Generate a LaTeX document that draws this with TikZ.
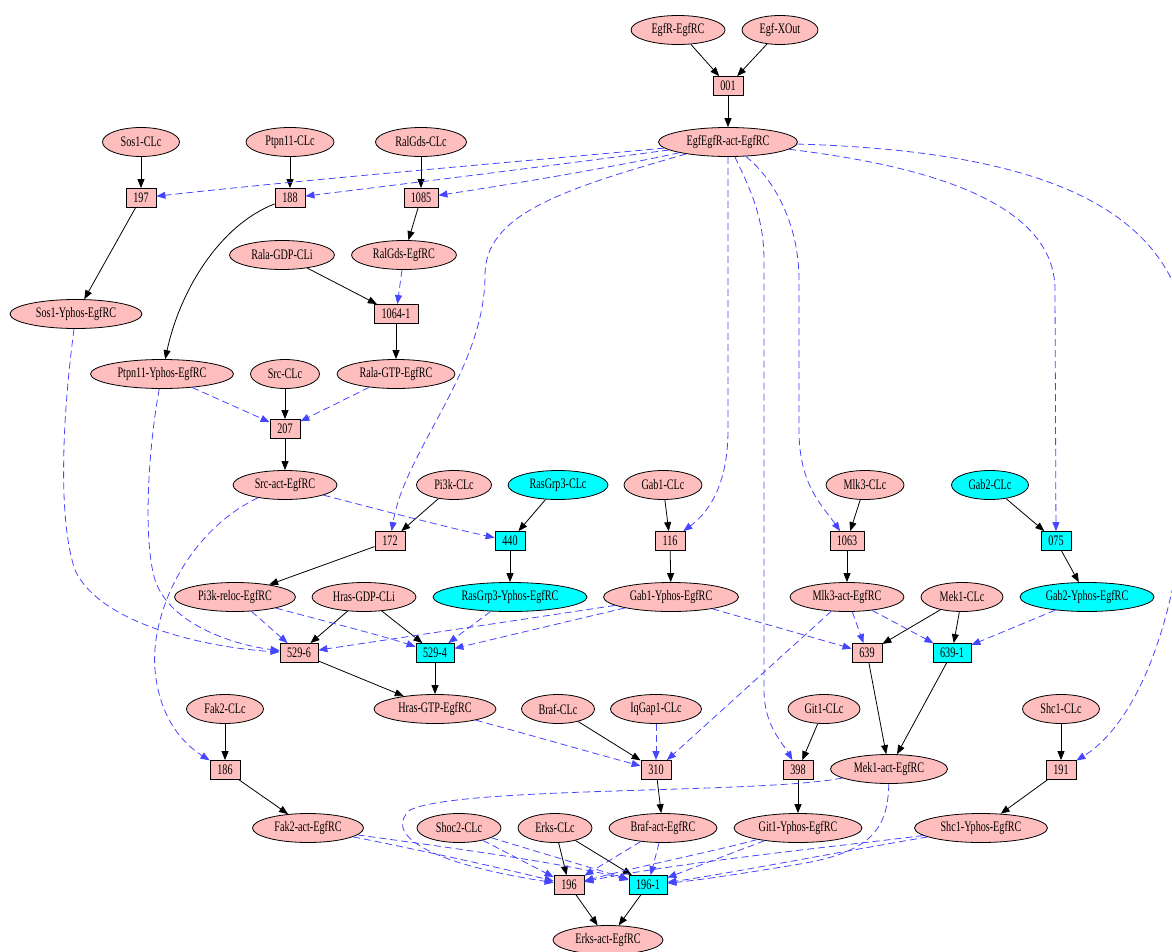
\documentclass[tikz,border=0pt]{standalone}
\usepackage{fontspec}
\setmainfont{Liberation Serif}[FakeStretch=0.70]
\usetikzlibrary{shapes.geometric,arrows.meta}
\definecolor{pinkf}{RGB}{255,190,190}
\definecolor{cyanf}{RGB}{0,255,255}
\definecolor{eblue}{RGB}{70,70,255}
\begin{document}
\begin{tikzpicture}[x=1pt,y=-1pt,
  every node/.style={font=\fontsize{14.5}{15}\selectfont, text=black},
  ell/.style={ellipse, draw=black, line width=0.8pt, fill=pinkf, minimum height=29pt, inner sep=0pt},
  ellc/.style={ell, fill=cyanf},
  bx/.style={rectangle, draw=black, line width=0.8pt, fill=pinkf, minimum height=19pt, inner sep=0pt},
  bxc/.style={bx, fill=cyanf},
  sedge/.style={draw=black, line width=0.8pt, -{Triangle[length=9pt,width=7pt]}},
  dedge/.style={draw=eblue, line width=0.8pt, dash pattern=on 7pt off 4pt, -{Triangle[length=9pt,width=7pt]}}
]
\useasboundingbox (0,0) rectangle (1172,952);
% nodes
\node[ell,minimum width=94pt] (EgfR) at (678,30) {EgfR-EgfRC};
\node[ell,minimum width=76pt] (EgfX) at (780,30) {Egf-XOut};
\node[bx,minimum width=30pt] (n001) at (728,86) {001};
\node[ell,minimum width=139pt] (Egfact) at (728,142) {EgfEgfR-act-EgfRC};
\node[ell,minimum width=77pt] (Sos1C) at (141,142) {Sos1-CLc};
\node[ell,minimum width=88pt] (PtpnC) at (290,142) {Ptpn11-CLc};
\node[ell,minimum width=91pt] (RalGdsC) at (421,142) {RalGds-CLc};
\node[bx,minimum width=30pt] (n197) at (141,198) {197};
\node[bx,minimum width=30pt] (n188) at (290,198) {188};
\node[bx,minimum width=34pt] (n1085) at (421,198) {1085};
\node[ell,minimum width=105pt] (RalaGDP) at (282,255) {Rala-GDP-CLi};
\node[ell,minimum width=105pt] (RalGdsE) at (404,255) {RalGds-EgfRC};
\node[ell,minimum width=132pt] (Sos1Y) at (76,314) {Sos1-Yphos-EgfRC};
\node[bx,minimum width=44pt] (n1064) at (396,314) {1064-1};
\node[ell,minimum width=143pt] (PtpnY) at (162,374) {Ptpn11-Yphos-EgfRC};
\node[ell,minimum width=69pt] (SrcC) at (285,374) {Src-CLc};
\node[ell,minimum width=118pt] (RalaGTP) at (396,374) {Rala-GTP-EgfRC};
\node[bx,minimum width=30pt] (n207) at (285,429) {207};
\node[ell,minimum width=104pt] (Srcact) at (285,485) {Src-act-EgfRC};
\node[ell,minimum width=75pt] (Pi3kC) at (454,485) {Pi3k-CLc};
\node[ellc,minimum width=100pt] (RasC) at (558,485) {RasGrp3-CLc};
\node[ell,minimum width=78pt] (Gab1C) at (663,485) {Gab1-CLc};
\node[ell,minimum width=78pt] (Mlk3C) at (865,485) {Mlk3-CLc};
\node[ellc,minimum width=77pt] (Gab2C) at (990,485) {Gab2-CLc};
\node[bx,minimum width=30pt] (n172) at (390,541) {172};
\node[bxc,minimum width=30pt] (n440) at (510,541) {440};
\node[bx,minimum width=30pt] (n116) at (670,541) {116};
\node[bx,minimum width=34pt] (n1063) at (847,541) {1063};
\node[bxc,minimum width=30pt] (n075) at (1056,541) {075};
\node[ell,minimum width=121pt] (Pi3kR) at (235,597) {Pi3k-reloc-EgfRC};
\node[ell,minimum width=104pt] (HrasGDP) at (364,597) {Hras-GDP-CLi};
\node[ellc,minimum width=154pt] (RasY) at (510,597) {RasGrp3-Yphos-EgfRC};
\node[ell,minimum width=135pt] (Gab1Y) at (671,597) {Gab1-Yphos-EgfRC};
\node[ell,minimum width=114pt] (Mlk3act) at (847,597) {Mlk3-act-EgfRC};
\node[ell,minimum width=82pt] (Mek1C) at (962,597) {Mek1-CLc};
\node[ellc,minimum width=134pt] (Gab2Y) at (1087,597) {Gab2-Yphos-EgfRC};
\node[bx,minimum width=38pt] (n5296) at (299,653) {529-6};
\node[bxc,minimum width=38pt] (n5294) at (435,653) {529-4};
\node[bx,minimum width=30pt] (n639) at (867,653) {639};
\node[bxc,minimum width=38pt] (n6391) at (952,653) {639-1};
\node[ell,minimum width=77pt] (Fak2C) at (225,709) {Fak2-CLc};
\node[ell,minimum width=122pt] (HrasGTP) at (435,709) {Hras-GTP-EgfRC};
\node[ell,minimum width=73pt] (BrafC) at (558,709) {Braf-CLc};
\node[ell,minimum width=91pt] (IqC) at (656,709) {IqGap1-CLc};
\node[ell,minimum width=72pt] (Git1C) at (824,709) {Git1-CLc};
\node[ell,minimum width=77pt] (Shc1C) at (1061,709) {Shc1-CLc};
\node[bx,minimum width=30pt] (n186) at (225,770) {186};
\node[bx,minimum width=30pt] (n310) at (656,770) {310};
\node[bx,minimum width=30pt] (n398) at (798,770) {398};
\node[ell,minimum width=117pt] (Mek1act) at (889,769) {Mek1-act-EgfRC};
\node[bx,minimum width=30pt] (n191) at (1061,770) {191};
\node[ell,minimum width=111pt] (Fak2act) at (308,828) {Fak2-act-EgfRC};
\node[ell,minimum width=84pt] (Shoc2C) at (459,828) {Shoc2-CLc};
\node[ell,minimum width=74pt] (ErksC) at (555,828) {Erks-CLc};
\node[ell,minimum width=108pt] (Brafact) at (663,828) {Braf-act-EgfRC};
\node[ell,minimum width=128pt] (Git1Y) at (798,828) {Git1-Yphos-EgfRC};
\node[ell,minimum width=133pt] (Shc1Y) at (981,828) {Shc1-Yphos-EgfRC};
\node[bx,minimum width=30pt] (n196) at (569,885) {196};
\node[bxc,minimum width=38pt] (n1961) at (648,885) {196-1};
\node[ell,minimum width=110pt] (Erksact) at (608,940) {Erks-act-EgfRC};
% solid edges
\draw[sedge] (EgfR) -- (n001);
\draw[sedge] (EgfX) -- (n001);
\draw[sedge] (n001) -- (Egfact);
\draw[sedge] (Sos1C) -- (n197);
\draw[sedge] (PtpnC) -- (n188);
\draw[sedge] (RalGdsC) -- (n1085);
\draw[sedge] (n197) -- (Sos1Y);
\draw[sedge] (n188) .. controls (220,225) and (180,290) .. (PtpnY);
\draw[sedge] (n1085) -- (RalGdsE);
\draw[sedge] (RalaGDP) -- (n1064);
\draw[sedge] (n1064) -- (RalaGTP);
\draw[sedge] (SrcC) -- (n207);
\draw[sedge] (n207) -- (Srcact);
\draw[sedge] (Pi3kC) -- (n172);
\draw[sedge] (n172) -- (Pi3kR);
\draw[sedge] (RasC) -- (n440);
\draw[sedge] (n440) -- (RasY);
\draw[sedge] (Gab1C) -- (n116);
\draw[sedge] (n116) -- (Gab1Y);
\draw[sedge] (Mlk3C) -- (n1063);
\draw[sedge] (n1063) -- (Mlk3act);
\draw[sedge] (Gab2C) -- (n075);
\draw[sedge] (n075) -- (Gab2Y);
\draw[sedge] (HrasGDP) -- (n5296);
\draw[sedge] (HrasGDP) -- (n5294);
\draw[sedge] (n5296) -- (HrasGTP);
\draw[sedge] (n5294) -- (HrasGTP);
\draw[sedge] (Mek1C) -- (n639);
\draw[sedge] (Mek1C) -- (n6391);
\draw[sedge] (n639) -- (Mek1act);
\draw[sedge] (n6391) -- (Mek1act);
\draw[sedge] (Fak2C) -- (n186);
\draw[sedge] (n186) -- (Fak2act);
\draw[sedge] (BrafC) -- (n310);
\draw[sedge] (n310) -- (Brafact);
\draw[sedge] (Git1C) -- (n398);
\draw[sedge] (n398) -- (Git1Y);
\draw[sedge] (Shc1C) -- (n191);
\draw[sedge] (n191) -- (Shc1Y);
\draw[sedge] (ErksC) -- (n196);
\draw[sedge] (ErksC) -- (n1961);
\draw[sedge] (n196) -- (Erksact);
\draw[sedge] (n1961) -- (Erksact);
% dashed edges
\draw[dedge] (Egfact) .. controls (560,158) and (300,180) .. (n197);
\draw[dedge] (Egfact) .. controls (580,162) and (420,182) .. (n188);
\draw[dedge] (Egfact) .. controls (610,168) and (500,186) .. (n1085);
\draw[dedge] (Egfact) .. controls (560,190) and (485,215) .. (485,275) .. controls (485,370) and (405,450) .. (n172);
\draw[dedge] (Egfact) -- (728,430) .. controls (728,490) and (705,515) .. (n116);
\draw[dedge] (Egfact) .. controls (748,185) and (764,215) .. (764,260) -- (764,690) .. controls (764,725) and (782,742) .. (n398);
\draw[dedge] (Egfact) .. controls (775,180) and (799,225) .. (799,280) -- (799,430) .. controls (799,485) and (822,505) .. (n1063);
\draw[dedge] (Egfact) .. controls (920,165) and (1055,200) .. (1055,290) -- (n075);
\draw[dedge] (Egfact) .. controls (1000,150) and (1160,190) .. (1185,320) .. controls (1205,560) and (1150,715) .. (n191);
\draw[dedge] (RalGdsE) -- (n1064);
\draw[dedge] (PtpnY) -- (n207);
\draw[dedge] (RalaGTP) -- (n207);
\draw[dedge] (Sos1Y) .. controls (62,420) and (58,520) .. (75,570) .. controls (100,625) and (210,648) .. (n5296);
\draw[dedge] (PtpnY) .. controls (148,450) and (143,540) .. (155,580) .. controls (170,625) and (235,645) .. (n5296);
\draw[dedge] (Pi3kR) -- (n5296);
\draw[dedge] (Pi3kR) .. controls (320,620) and (380,635) .. (n5294);
\draw[dedge] (Srcact) .. controls (380,510) and (450,528) .. (n440);
\draw[dedge] (Srcact) .. controls (190,530) and (150,610) .. (155,670) .. controls (160,725) and (190,748) .. (n186);
\draw[dedge] (RasY) -- (n5294);
\draw[dedge] (Gab1Y) -- (n5296);
\draw[dedge] (Gab1Y) -- (n5294);
\draw[dedge] (Gab1Y) -- (n639);
\draw[dedge] (Mlk3act) -- (n639);
\draw[dedge] (Mlk3act) -- (n6391);
\draw[dedge] (Mlk3act) -- (n310);
\draw[dedge] (Gab2Y) -- (n6391);
\draw[dedge] (HrasGTP) .. controls (530,735) and (600,755) .. (n310);
\draw[dedge] (IqC) -- (n310);
\draw[dedge] (Fak2act) .. controls (420,850) and (510,870) .. (n196);
\draw[dedge] (Fak2act) .. controls (430,845) and (560,862) .. (n1961);
\draw[dedge] (Mek1act) .. controls (760,794) and (460,786) .. (410,810) .. controls (385,832) and (420,862) .. (n196);
\draw[dedge] (Mek1act) .. controls (888,830) and (870,852) .. (800,864) .. controls (740,874) and (700,880) .. (n1961);
\draw[dedge] (Shoc2C) -- (n196);
\draw[dedge] (Shoc2C) -- (n1961);
\draw[dedge] (Brafact) -- (n196);
\draw[dedge] (Brafact) -- (n1961);
\draw[dedge] (Git1Y) .. controls (720,850) and (640,866) .. (n196);
\draw[dedge] (Git1Y) -- (n1961);
\draw[dedge] (Shc1Y) .. controls (850,845) and (680,862) .. (n196);
\draw[dedge] (Shc1Y) .. controls (850,850) and (720,875) .. (n1961);
\end{tikzpicture}
\end{document}
